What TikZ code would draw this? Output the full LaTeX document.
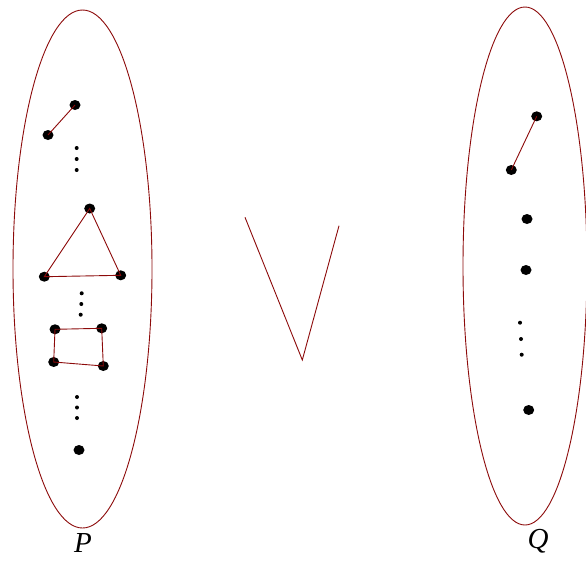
\documentclass[tikz,border=0pt]{standalone}
\usepackage{fontspec}
\setmainfont{Liberation Serif}
\usetikzlibrary{shapes.geometric}
\begin{document}
\begin{tikzpicture}[x=1pt,y=-1pt,
  edgecol/.style={draw={rgb,255:red,140;green,10;blue,10}, line width=0.9pt},
  bigdot/.style={ellipse, fill=black, inner sep=0pt, minimum width=11pt, minimum height=10pt},
  smalldot/.style={circle, fill=black, inner sep=0pt, minimum size=4pt},
  lab/.style={font=\fontsize{29}{32}\selectfont\itshape}]
\useasboundingbox (0,0) rectangle (586,563);
\clip (0,0) rectangle (586,563);
% ellipses
\draw[edgecol] (82.5,269) ellipse [x radius=69.5, y radius=259];
\draw[edgecol] (525,266) ellipse [x radius=62, y radius=259];
% left set
\node[bigdot] (a1) at (75,105) {};
\node[bigdot] (a2) at (48,135) {};
\node[smalldot] (s1) at (76.7,148) {};
\node[smalldot] (s2) at (76.7,159) {};
\node[smalldot] (s3) at (76.7,170) {};
\node[bigdot] (t1) at (89.7,208.5) {};
\node[bigdot] (t2) at (44.3,276.7) {};
\node[bigdot] (t3) at (120.7,275.3) {};
\node[smalldot] (s4) at (81.7,293.3) {};
\node[smalldot] (s5) at (81.3,304) {};
\node[smalldot] (s6) at (80.7,314.7) {};
\node[bigdot] (q1) at (55,329.3) {};
\node[bigdot] (q2) at (101.7,328.3) {};
\node[bigdot] (q3) at (103.3,366) {};
\node[bigdot] (q4) at (53.7,362) {};
\node[smalldot] (s7) at (77,397) {};
\node[smalldot] (s8) at (77,407.5) {};
\node[smalldot] (s9) at (77,418) {};
\node[bigdot] (p1) at (79,450) {};
\draw[edgecol] (a1.center) -- (a2.center);
\draw[edgecol] (t1.center) -- (t2.center) -- (t3.center) -- cycle;
\draw[edgecol] (q1.center) -- (q2.center) -- (q3.center) -- (q4.center) -- cycle;
% right set
\node[bigdot] (b1) at (536.7,116.3) {};
\node[bigdot] (b2) at (511.3,170) {};
\node[bigdot] (b3) at (527,219) {};
\node[bigdot] (b4) at (526,270) {};
\node[smalldot] (r1) at (520,322.7) {};
\node[smalldot] (r2) at (521,339) {};
\node[smalldot] (r3) at (521.7,354.7) {};
\node[bigdot] (b5) at (528.7,410) {};
\draw[edgecol] (b1.center) -- (b2.center);
% V symbol
\coordinate (v1) at (245,217.3);
\coordinate (v2) at (302.3,360);
\coordinate (v3) at (339,225.7);
\draw[edgecol] (v1) -- (v2) -- (v3);
% labels
\node[lab] (P) at (83,543) {P};
\node[lab] (Q) at (538,541) {Q};
\end{tikzpicture}
\end{document}
